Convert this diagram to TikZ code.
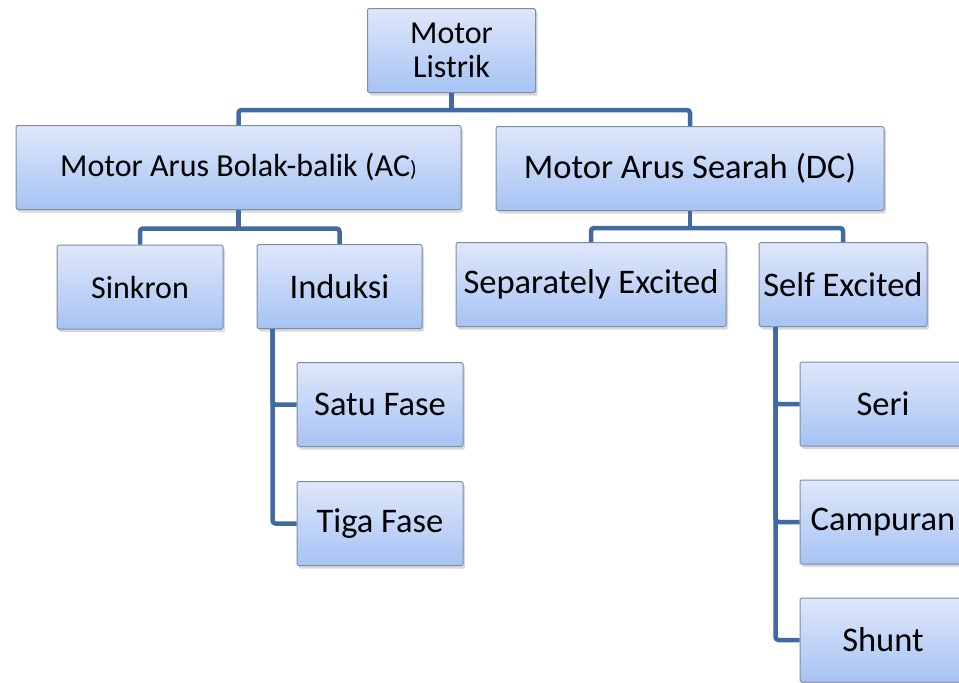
\documentclass[tikz,border=0pt]{standalone}
\usepackage{fontspec}
\setmainfont{Carlito}
\usetikzlibrary{shadows}
\definecolor{boxtop}{RGB}{223,231,250}
\definecolor{boxbottom}{RGB}{166,195,244}
\definecolor{boxline}{RGB}{128,140,160}
\definecolor{linkblue}{RGB}{66,106,162}

\begin{document}
\begin{tikzpicture}[
    x=1pt, y=-1pt,
    box/.style={draw=boxline, line width=1pt, rounded corners=1.5pt,
    top color=boxtop, bottom color=boxbottom, inner sep=0pt,
    minimum height=84pt, font=\fontsize{34.5}{36}\selectfont,
    drop shadow={shadow xshift=2pt, shadow yshift=-3pt, opacity=0.3}},
    small text/.style={font=\fontsize{32}{34}\selectfont},
    link/.style={draw=linkblue, line width=4.5pt, rounded corners=3pt}
    ]
    \clip (0,0) rectangle (959,683);

    % top
    \node[box, small text, minimum width=168pt, align=center] (listrik) at (451.5,50.5) {Motor\\Listrik};

    % AC and DC
    \node[box, small text, minimum width=445pt] (ac) at (238.5,167.5) {Motor Arus Bolak-balik (AC{\fontsize{22}{24}\selectfont )}};
    \node[box, minimum width=388pt] (dc) at (690,168.5) {Motor Arus Searah (DC)};

    % third row
    \node[box, small text, minimum width=166pt] (sinkron) at (140,287) {Sinkron};
    \node[box, minimum width=165pt] (induksi) at (339.5,286.5) {Induksi};
    \node[box, minimum width=270pt] (separate) at (591,284.5) {Separately Excited};
    \node[box, minimum width=168pt] (self) at (843,284.5) {Self Excited};

    % leaves
    \node[box, minimum width=166pt] (satu) at (380,404.5) {Satu Fase};
    \node[box, minimum width=166pt] (tiga) at (380,523.5) {Tiga Fase};
    \node[box, minimum width=166pt] (seri) at (883,404) {Seri};
    \node[box, minimum width=166pt] (campuran) at (883,522) {Campuran};
    \node[box, minimum width=166pt] (shunt) at (883,640) {Shunt};

    % Lines
    \draw[link] (ac.north) -- ++(0,-15) -| (dc.north);
    \draw[link] (listrik.south) -- ++(0,18);
    \draw[link] (sinkron.north) -- ++(0,-16) -| (induksi.north);
    \draw[link] (ac.south) -- ++(0,20);
    \draw[link] (separate.north) -- ++(0,-14) -| (self.north);
    \draw[link] (dc.south) -- ++(0,18);
    \coordinate (induksi drop) at ([xshift=16pt]induksi.south west);
    \draw[link] (induksi drop) |- (satu.west);
    \draw[link] (induksi drop) |- (tiga.west);
    \coordinate (self drop) at ([xshift=17pt]self.south west);
    \draw[link] (self drop) |- (seri.west);
    \draw[link] (self drop) |- (campuran.west);
    \draw[link] (self drop) |- (shunt.west);
\end{tikzpicture}
\end{document}
